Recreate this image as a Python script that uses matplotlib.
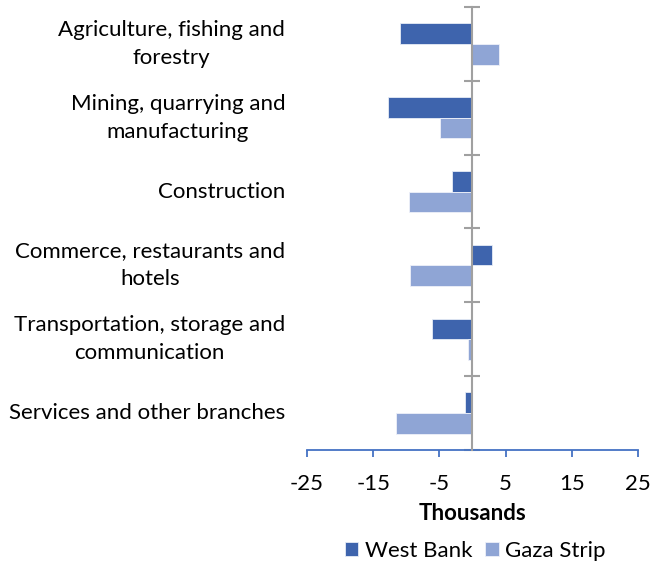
import matplotlib

matplotlib.use("Agg")
import matplotlib.pyplot as plt
import numpy as np

CATEGORIES = [
    "Agriculture, fishing and\nforestry",
    "Mining, quarrying and\nmanufacturing",
    "Construction",
    "Commerce, restaurants and\nhotels",
    "Transportation, storage and\ncommunication",
    "Services and other branches",
]
WEST_BANK = [-11.0, -12.75, -3.1, 3.0, -6.1, -1.15]
GAZA_STRIP = [4.0, -4.9, -9.6, -9.4, -0.75, -11.5]
X_TICKS = [-25, -15, -5, 5, 15, 25]

WB_COLOR = "#3E64AD"
GAZA_COLOR = "#8FA5D5"
AXIS_BLUE = "#4472C4"
ZERO_GRAY = "#A0A0A0"

plt.rcParams["font.family"] = ["Lato", "DejaVu Sans"]
plt.rcParams["axes.unicode_minus"] = False
FS = 16

fig = plt.figure(figsize=(6.51, 5.61), dpi=100)
ax = fig.add_axes([0.4716, 0.1979, 0.5084, 0.7896])

pos = np.arange(len(CATEGORIES))
h = 0.28
ax.barh(pos - h / 2, WEST_BANK, height=h, color=WB_COLOR, edgecolor="#E6ECF6", linewidth=0.6, label="West Bank", zorder=2)
ax.barh(pos + h / 2, GAZA_STRIP, height=h, color=GAZA_COLOR, edgecolor="#EEF1F9", linewidth=0.6, label="Gaza Strip", zorder=2)

ax.set_xlim(-25, 25)
ax.set_ylim(len(CATEGORIES) - 0.5, -0.5)
ax.set_xticks(X_TICKS)
ax.tick_params(axis="x", direction="out", length=5, width=1.3, color=AXIS_BLUE, labelsize=FS, pad=12)

# category axis sits on zero with ticks between categories
ax.spines["left"].set_position(("data", 0))
ax.spines["left"].set_color(ZERO_GRAY)
ax.spines["left"].set_linewidth(1.5)
ax.spines["left"].set_zorder(3)
ax.set_yticks(np.arange(len(CATEGORIES) + 1) - 0.5)
ax.tick_params(axis="y", direction="inout", length=11, width=1.5, color=ZERO_GRAY, labelleft=False)
ax.spines["bottom"].set_color(AXIS_BLUE)
ax.spines["bottom"].set_linewidth(1.3)
ax.spines["top"].set_visible(False)
ax.spines["right"].set_visible(False)

for i, name in enumerate(CATEGORIES):
    ax.text(-0.066, i, name, transform=ax.get_yaxis_transform(), ha="right", va="center",
            multialignment="center", fontsize=FS, linespacing=1.5)

ax.set_xlabel("Thousands", fontsize=FS, fontweight="bold", labelpad=7)

fig.legend(loc="lower center", bbox_to_anchor=(0.73, -0.035), ncol=2, frameon=False, fontsize=FS,
           handlelength=0.6, handleheight=0.6, handletextpad=0.3, columnspacing=0.6)

fig.savefig("out.png", dpi=100)
